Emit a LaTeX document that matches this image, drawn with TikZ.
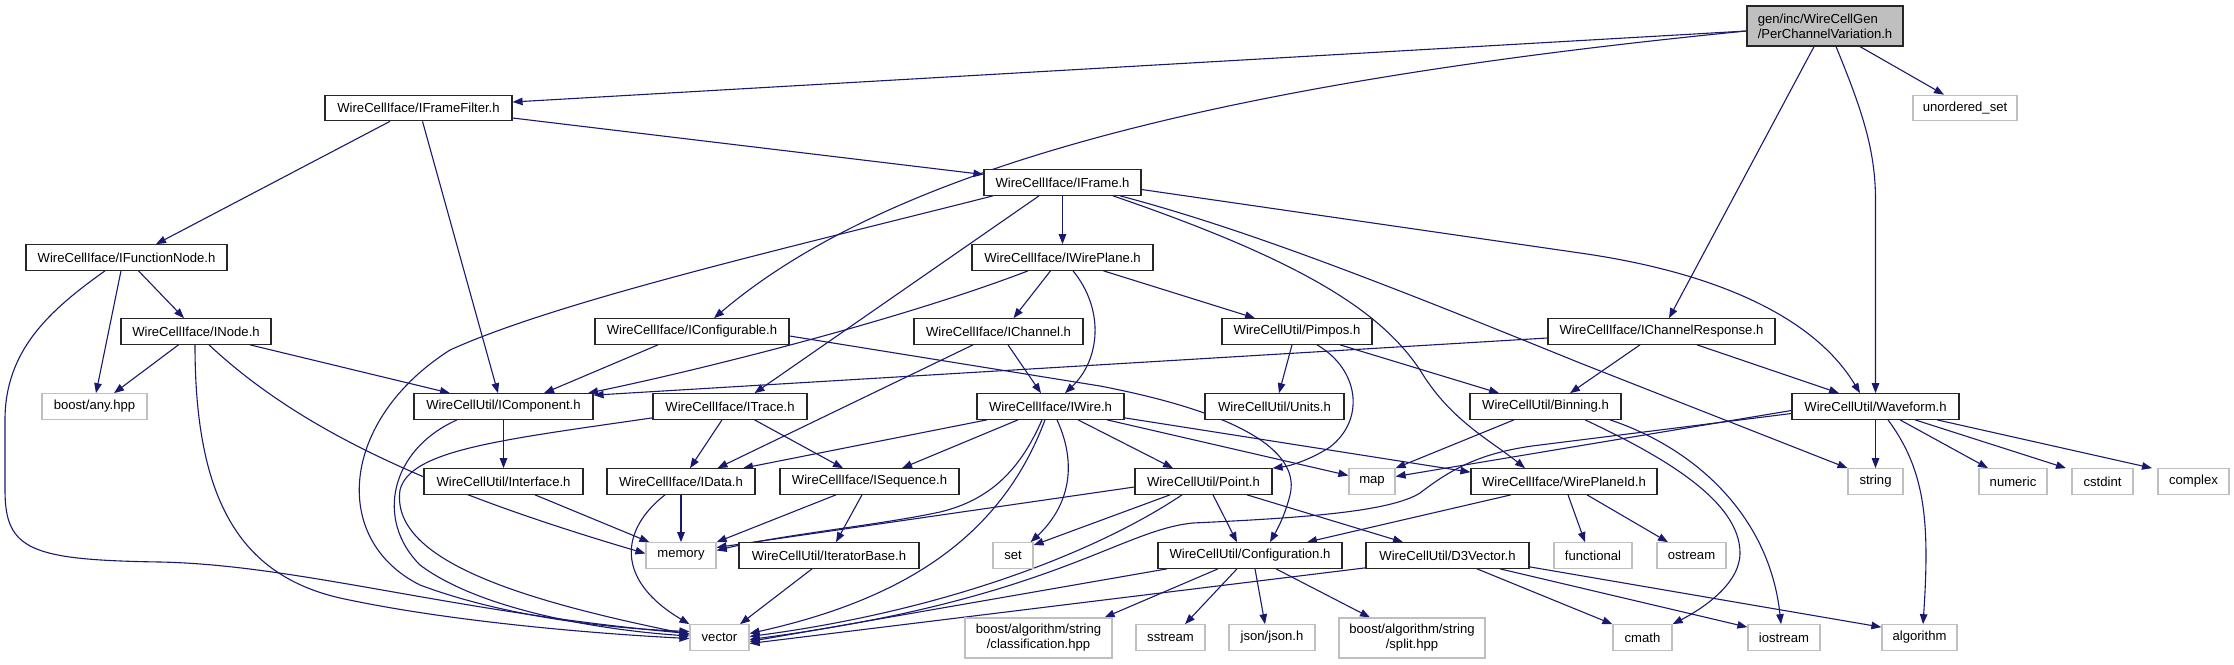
\documentclass[tikz,border=0pt]{standalone}
\usepackage{fontspec}
\setmainfont{Liberation Sans}
\usetikzlibrary{arrows.meta}
\definecolor{edgec}{HTML}{191970}
\definecolor{extgray}{HTML}{BFBFBF}
\newcommand\fsz{\fontsize{13.1}{15}\selectfont}
\pgfdeclarelayer{edges}
\pgfsetlayers{edges,main}
\tikzset{
  box/.style={draw=black!85, line width=1.2pt, fill=white, inner sep=0pt, minimum height=25.5pt, font=\fsz, align=center},
  ext/.style={box, draw=extgray},
  main/.style={box, fill=extgray, align=left, minimum height=40pt},
  e/.style={draw=edgec, line width=1.1pt, -{Triangle[length=10pt,width=7.5pt]}},
}
\begin{document}
\begin{tikzpicture}[x=1pt,y=-1pt]
\path[use as bounding box] (0,0) rectangle (2234,664);
% nodes
\node[main, minimum width=156pt] (pcv) at (1825,26) {gen/inc/WireCellGen\\/PerChannelVariation.h};
\node[ext, minimum width=104pt] (uset) at (1965,108) {unordered\_set};
\node[box, minimum width=187pt] (iff) at (418.5,108) {WireCellIface/IFrameFilter.h};
\node[box, minimum width=201pt] (ifn) at (126.5,257.5) {WireCellIface/IFunctionNode.h};
\node[box, minimum width=150pt] (inode) at (196,331.5) {WireCellIface/INode.h};
\node[box, minimum width=157pt] (iframe) at (1062.5,182.5) {WireCellIface/IFrame.h};
\node[box, minimum width=181pt] (iwp) at (1062.5,257.5) {WireCellIface/IWirePlane.h};
\node[box, minimum width=194pt] (iconf) at (692,331.5) {WireCellIface/IConfigurable.h};
\node[box, minimum width=169pt] (ichan) at (998.5,331.5) {WireCellIface/IChannel.h};
\node[box, minimum width=150pt] (pimpos) at (1297,331.5) {WireCellUtil/Pimpos.h};
\node[box, minimum width=227pt] (ichr) at (1661.5,331.5) {WireCellIface/IChannelResponse.h};
\node[ext, minimum width=105pt] (anyhpp) at (94.5,406.5) {boost/any.hpp};
\node[box, minimum width=179pt] (icomp) at (503.5,406.5) {WireCellUtil/IComponent.h};
\node[box, minimum width=154pt] (itrace) at (730,406.5) {WireCellIface/ITrace.h};
\node[box, minimum width=147pt] (iwire) at (1050.5,406.5) {WireCellIface/IWire.h};
\node[box, minimum width=139pt] (units) at (1274.5,406.5) {WireCellUtil/Units.h};
\node[box, minimum width=151pt] (binning) at (1545.5,406.5) {WireCellUtil/Binning.h};
\node[box, minimum width=167pt] (waveform) at (1875.5,406.5) {WireCellUtil/Waveform.h};
\node[box, minimum width=159pt] (interface) at (503.5,481.5) {WireCellUtil/Interface.h};
\node[box, minimum width=148pt] (idata) at (681,481.5) {WireCellIface/IData.h};
\node[box, minimum width=179pt] (iseq) at (869.5,481.5) {WireCellIface/ISequence.h};
\node[box, minimum width=137pt] (point) at (1203.5,481.5) {WireCellUtil/Point.h};
\node[ext, minimum width=46pt] (map) at (1372,481.5) {map};
\node[box, minimum width=186pt] (wpid) at (1564,481.5) {WireCellIface/WirePlaneId.h};
\node[ext, minimum width=55pt] (string) at (1875.5,481.5) {string};
\node[ext, minimum width=68pt] (numeric) at (2013,481.5) {numeric};
\node[ext, minimum width=61pt] (cstdint) at (2102.5,481.5) {cstdint};
\node[ext, minimum width=71pt] (complex) at (2193.5,481.5) {complex};
\node[ext, minimum width=70pt] (memory) at (681,555.5) {memory};
\node[box, minimum width=180pt] (iterb) at (829,555.5) {WireCellUtil/IteratorBase.h};
\node[ext, minimum width=40pt] (set) at (1013,555.5) {set};
\node[box, minimum width=184pt] (config) at (1250,555.5) {WireCellUtil/Configuration.h};
\node[box, minimum width=163pt] (d3v) at (1447.5,555.5) {WireCellUtil/D3Vector.h};
\node[ext, minimum width=78pt] (functional) at (1593,555.5) {functional};
\node[ext, minimum width=69pt] (ostream) at (1691.5,555.5) {ostream};
\node[ext, minimum width=59pt] (vector) at (719.5,637.5) {vector};
\node[ext, minimum width=147pt, minimum height=40pt] (classif) at (1038.5,638) {boost/algorithm/string\\/classification.hpp};
\node[ext, minimum width=69pt] (sstream) at (1170.5,637.5) {sstream};
\node[ext, minimum width=86pt] (json) at (1272,637.5) {json/json.h};
\node[ext, minimum width=146pt, minimum height=40pt] (split) at (1412,638) {boost/algorithm/string\\/split.hpp};
\node[ext, minimum width=59pt] (cmath) at (1642.5,637.5) {cmath};
\node[ext, minimum width=72pt] (iostream) at (1784,637.5) {iostream};
\node[ext, minimum width=75pt] (algorithm) at (1919.5,637.5) {algorithm};

\begin{pgfonlayer}{edges}
% PerChannelVariation
\draw[e] ([yshift=-5pt]pcv.west) -- ([yshift=6pt]iff.east);
\draw[e] ([yshift=-5pt]pcv.west) .. controls (1250,80) and (900,160) .. ([xshift=22pt]iconf.north);
\draw[e] ([xshift=-11pt]pcv.south) -- ([xshift=7.5pt]ichr.north);
\draw[e] ([xshift=11pt]pcv.south) .. controls (1862,110) and (1875.5,150) .. (1875.5,200) -- (waveform.north);
\draw[e] ([xshift=35pt]pcv.south) -- ([xshift=-21pt]uset.north);
% IFrameFilter
\draw[e] ([xshift=-28.5pt]iff.south) -- ([xshift=29.5pt]ifn.north);
\draw[e] ([xshift=4pt]iff.south) -- ([xshift=-5.5pt]icomp.north);
\draw[e] ([yshift=-10pt]iff.east) -- ([yshift=8pt]iframe.west);
% IFunctionNode
\draw[e] ([xshift=-21.5pt]ifn.south) .. controls (50,310) and (5,350) .. (5,420) -- (5,490) .. controls (5,550) and (30,560) .. (160,562) .. controls (300,565) and (450,612) .. ([yshift=4pt]vector.west);
\draw[e] ([xshift=-5.5pt]ifn.south) -- ([xshift=1.5pt]anyhpp.north);
\draw[e] ([xshift=12pt]ifn.south) -- ([xshift=-12pt]inode.north);
% INode
\draw[e] ([xshift=-17.5pt]inode.south) -- ([xshift=19.5pt]anyhpp.north);
\draw[e] ([xshift=54pt]inode.south) -- ([xshift=-53.5pt]icomp.north);
\draw[e] ([xshift=13pt]inode.south) .. controls (300,430) and (430,490) .. ([yshift=2pt]memory.west);
\draw[e] ([xshift=-1pt]inode.south) .. controls (195,500) and (240,575) .. (340,598) .. controls (450,622) and (600,634) .. ([yshift=-1pt]vector.west);
% IFrame
\draw[e] ([xshift=-69.5pt]iframe.south) .. controls (800,245) and (560,300) .. (450,350) .. controls (340,420) and (330,540) .. (420,585) .. controls (500,615) and (600,628) .. ([yshift=6pt]vector.west);
\draw[e] ([xshift=-23.5pt]iframe.south) -- ([xshift=24.5pt]itrace.north);
\draw[e] (iframe.south) -- (iwp.north);
\draw[e] ([xshift=57.5pt]iframe.south) .. controls (1250,230) and (1400,290) .. (1580,363) -- ([xshift=-28pt]string.north);
\draw[e] ([xshift=50.5pt]iframe.south) .. controls (1300,260) and (1380,310) .. (1420,370) .. controls (1450,420) and (1490,440) .. ([xshift=-39pt]wpid.north);
\draw[e] ([yshift=-7pt]iframe.east) -- (1580,253) .. controls (1700,270) and (1810,310) .. ([xshift=-15.5pt]waveform.north);
% IWirePlane
\draw[e] ([xshift=-34.5pt]iwp.south) .. controls (900,320) and (700,370) .. ([xshift=84.5pt]icomp.north);
\draw[e] ([xshift=-12pt]iwp.south) -- ([xshift=15pt]ichan.north);
\draw[e] ([xshift=10.5pt]iwp.south) .. controls (1105,310) and (1100,360) .. ([xshift=14.5pt]iwire.north);
\draw[e] ([xshift=41pt]iwp.south) -- ([xshift=-42pt]pimpos.north);
% IConfigurable
\draw[e] ([xshift=-34pt]iconf.south) -- ([xshift=40.5pt]icomp.north);
\draw[e] ([yshift=-4.5pt]iconf.east) -- (1100,386) .. controls (1250,415) and (1300,455) .. (1290,495) .. controls (1285,515) and (1278,528) .. ([xshift=20pt]config.north);
% IChannel
\draw[e] ([xshift=-25.5pt]ichan.south) -- ([xshift=36.5pt]idata.north);
\draw[e] ([xshift=9.5pt]ichan.south) -- ([xshift=-9.5pt]iwire.north);
% IChannelResponse
\draw[e] ([yshift=-6.5pt]ichr.west) -- ([yshift=-2pt]icomp.north east);
\draw[e] ([xshift=-21.5pt]ichr.south) -- ([xshift=24.5pt]binning.north);
\draw[e] ([xshift=35.5pt]ichr.south) -- ([xshift=-36.5pt]waveform.north);
% Pimpos
\draw[e] ([xshift=-5pt]pimpos.south) -- ([xshift=4.5pt]units.north);
\draw[e] ([xshift=20pt]pimpos.south) .. controls (1360,370) and (1365,420) .. (1330,447) .. controls (1310,460) and (1290,466) .. (point.north east);
\draw[e] ([xshift=43pt]pimpos.south) -- ([xshift=-46.5pt]binning.north);
% IComponent
\draw[e] (icomp.south) -- (interface.north);
\draw[e] ([xshift=-46.5pt]icomp.south) .. controls (390,450) and (375,520) .. (420,565) .. controls (480,610) and (600,630) .. ([yshift=1.5pt]vector.west);
% ITrace
\draw[e] ([yshift=2pt]itrace.south west) .. controls (500,440) and (410,450) .. (400,490) .. controls (390,560) and (520,600) .. ([yshift=3pt]vector.west);
\draw[e] ([xshift=-8pt]itrace.south) -- ([xshift=9pt]idata.north);
\draw[e] ([xshift=24.5pt]itrace.south) -- ([xshift=-26.5pt]iseq.north);
% Interface
\draw[e] ([xshift=31.5pt]interface.south) -- ([xshift=4pt]memory.north west);
% IData
\draw[e] (idata.south) -- (memory.north);
\draw[e] ([xshift=-16pt]idata.south) .. controls (620,530) and (615,580) .. (vector.north west);
% ISequence
\draw[e] ([xshift=-33.5pt]iseq.south) -- (memory.north east);
\draw[e] ([xshift=-7.5pt]iseq.south) -- ([xshift=7pt]iterb.north);
% IteratorBase
\draw[e] ([xshift=-17pt]iterb.south) -- ([xshift=20.5pt]vector.north);
% IWire
\draw[e] ([xshift=-63.5pt]iwire.south) -- ([xshift=62pt]idata.north);
\draw[e] ([xshift=-32.5pt]iwire.south) -- ([xshift=32.5pt]iseq.north);
\draw[e] ([xshift=-8.5pt]iwire.south) .. controls (1020,470) and (990,500) .. (940,512) .. controls (880,525) and (780,535) .. ([yshift=5pt]memory.east);
\draw[e] ([xshift=-5.5pt]iwire.south) .. controls (1000,540) and (900,600) .. ([yshift=4pt]vector.east);
\draw[e] ([xshift=6.5pt]iwire.south) .. controls (1080,470) and (1065,510) .. ([xshift=-3pt]set.north east);
\draw[e] ([xshift=27.5pt]iwire.south) -- ([xshift=-30.5pt]point.north);
\draw[e] ([xshift=56.5pt]iwire.south) -- ([yshift=6pt]map.west);
\draw[e] ([yshift=2pt]iwire.south east) -- ([yshift=-4pt]wpid.north west);
% Point
\draw[e] ([yshift=-5.5pt]point.west) -- ([yshift=8pt]memory.east);
\draw[e] ([xshift=-33.5pt]point.south) -- ([yshift=-3pt]set.north east);
\draw[e] ([xshift=-21.5pt]point.south) .. controls (1100,550) and (950,610) .. ([yshift=1pt]vector.east);
\draw[e] ([xshift=9.5pt]point.south) -- ([xshift=-13pt]config.north);
\draw[e] ([xshift=43.5pt]point.south) -- ([xshift=-44.5pt]d3v.north);
% Binning
\draw[e] ([xshift=-31.5pt]binning.south) -- (map.north east);
\draw[e] ([xshift=39.5pt]binning.south) .. controls (1660,455) and (1740,500) .. (1740,553) .. controls (1740,585) and (1700,610) .. (cmath.north east);
\draw[e] ([xshift=64.5pt]binning.south) .. controls (1700,450) and (1770,520) .. ([xshift=-3pt]iostream.north);
% Waveform
\draw[e] ([yshift=-4pt]waveform.west) -- ([yshift=5pt]map.east);
\draw[e] ([yshift=-7pt]waveform.west) -- (1540,445) .. controls (1480,452) and (1450,470) .. (1420,493) .. controls (1390,512) and (1300,518) .. (1193,523) .. controls (1120,530) and (1050,600) .. ([yshift=-2pt]vector.east);
\draw[e] (waveform.south) -- (string.north);
\draw[e] ([xshift=12.5pt]waveform.south) .. controls (1925,470) and (1930,520) .. ([xshift=3.5pt]algorithm.north);
\draw[e] ([xshift=24.5pt]waveform.south) -- ([xshift=-25pt]numeric.north);
\draw[e] ([xshift=39.5pt]waveform.south) -- ([xshift=-36.5pt]cstdint.north);
\draw[e] ([xshift=61.5pt]waveform.south) -- ([xshift=-41.5pt]complex.north);
% WirePlaneId
\draw[e] ([xshift=4pt]wpid.south) -- ([xshift=-8pt]functional.north);
\draw[e] ([xshift=23pt]wpid.south) -- ([xshift=-23.5pt]ostream.north);
\draw[e] ([xshift=-53pt]wpid.south) -- ([xshift=57pt]config.north);
% Configuration
\draw[e] ([xshift=-83pt]config.south) -- ([yshift=-4pt]vector.east);
\draw[e] ([xshift=-32pt]config.south) -- ([xshift=-8pt]classif.north east);
\draw[e] ([xshift=-13pt]config.south) -- ([xshift=14.5pt]sstream.north);
\draw[e] ([xshift=5pt]config.south) -- ([xshift=-7pt]json.north);
\draw[e] ([xshift=26pt]config.south) -- ([xshift=-42pt]split.north);
% D3Vector
\draw[e] ([yshift=1pt]d3v.south west) -- ([yshift=-6pt]vector.east);
\draw[e] ([xshift=29.5pt]d3v.south) -- (cmath.north west);
\draw[e] ([xshift=52.5pt]d3v.south) -- ([yshift=-3pt]iostream.north west);
\draw[e] ([yshift=2pt]d3v.south east) -- ([yshift=-3pt]algorithm.north west);
\end{pgfonlayer}
\end{tikzpicture}
\end{document}
